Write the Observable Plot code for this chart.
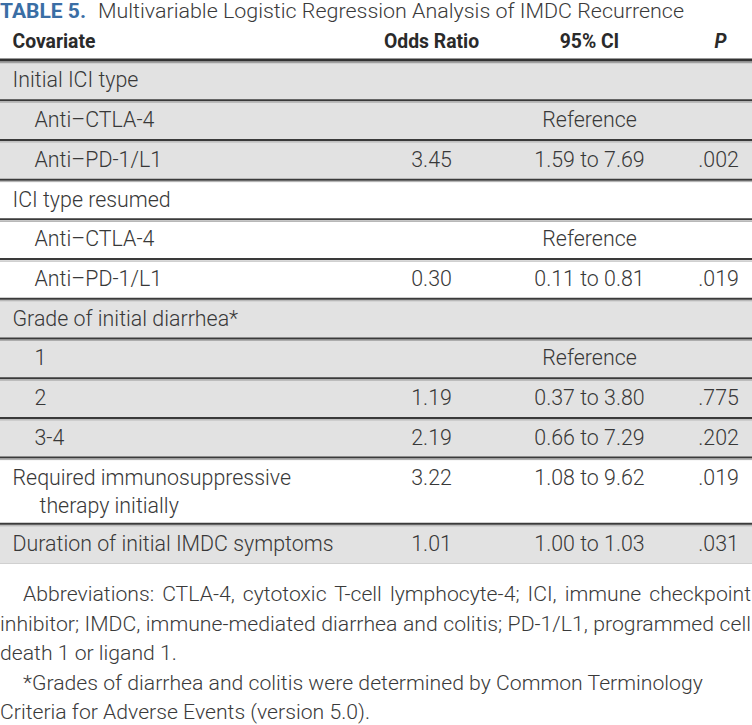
<!DOCTYPE html>
<html>
<head>
<meta charset="utf-8">
<script src="https://cdn.jsdelivr.net/npm/d3@7"></script>
<script src="https://cdn.jsdelivr.net/npm/@observablehq/plot@0.6"></script>
<style>
  html, body { margin: 0; padding: 0; background: #fff; }
  body { position: relative; width: 752px; height: 725px; overflow: hidden; font-family: Roboto, "Noto Sans", sans-serif; color: #383838; }
  .abs { position: absolute; white-space: nowrap; transform-origin: 0 0; }
  #chart { position: absolute; left: 0; top: 0; }
</style>
</head>
<body>
<div id="chart"></div>
<script>
// ---- data ----
const titleLabel = "TABLE 5.";
const titleText = "Multivariable Logistic Regression Analysis of IMDC Recurrence";
const headers = ["Covariate", "Odds Ratio", "95% CI", "P"];
const covariates = [
  "Initial ICI type", "Anti–CTLA-4", "Anti–PD-1/L1",
  "ICI type resumed", "Anti–CTLA-4", "Anti–PD-1/L1",
  "Grade of initial diarrhea*", "1", "2", "3-4",
  "Required immunosuppressive\ntherapy initially",
  "Duration of initial IMDC symptoms"
];
const levels = [0, 1, 1, 0, 1, 1, 0, 1, 1, 1, 0, 0];
const groups = [0, 0, 0, 1, 1, 1, 2, 2, 2, 2, 3, 4];
const oddsRatios = [null, null, "3.45", null, null, "0.30", null, null, "1.19", "2.19", "3.22", "1.01"];
const ci95 = [null, "Reference", "1.59 to 7.69", null, "Reference", "0.11 to 0.81", null, "Reference", "0.37 to 3.80", "0.66 to 7.29", "1.08 to 9.62", "1.00 to 1.03"];
const pValues = [null, null, ".002", null, null, ".019", null, null, ".775", ".202", ".019", ".031"];
const noteLines = [
  "Abbreviations: CTLA-4, cytotoxic T-cell lymphocyte-4; ICI, immune checkpoint",
  "inhibitor; IMDC, immune-mediated diarrhea and colitis; PD-1/L1, programmed cell",
  "death 1 or ligand 1.",
  "*Grades of diarrhea and colitis were determined by Common Terminology",
  "Criteria for Adverse Events (version 5.0)."
];

// ---- layout ----
const W = 752, H = 572;
const FAM = 'Roboto, "Noto Sans", sans-serif';
const INK = "#383838", SHADE = "#e2e2e2", BLUE = "#3a6ea5";
const colX = {covariate: 12, sub: 34, cont: 39, odds: 431, ci: 589, p: 718};
const BODY = 22, HEAD = 20;

const ctx = document.createElement("canvas").getContext("2d");
function measure(text, weight, size) { ctx.font = `${weight} ${size}px ${FAM}`; return ctx.measureText(text).width; }

const sBody = (321 + 126) / (measure("Duration of initial IMDC symptoms", 300, BODY) + measure("Initial ICI type", 300, BODY));
const sHead = 83 / measure("Covariate", 700, HEAD);

let acc = 0;
const rows = covariates.map((c, i) => {
  const parts = c.split("\n");
  const h = parts.length > 1 ? 1.667 : 1;
  const r = {first: parts[0], second: parts[1] || null, level: levels[i], group: groups[i],
             or: oddsRatios[i], ci: ci95[i], p: pValues[i], top: acc, bottom: acc + h};
  acc += h;
  return r;
});
const total = acc;

const body = {fontSize: BODY, fill: INK, fontFamily: FAM, fontWeight: 300};
const head = {fontSize: HEAD, fill: "#2a2a2a", fontFamily: FAM, fontWeight: 700};

const plot = Plot.plot({
  width: W, height: H,
  margin: 0,
  x: {domain: [0, W], range: [0, W], axis: null},
  y: {domain: [0, total], range: [60, 563], axis: null},
  style: {fontFamily: FAM, background: "transparent", overflow: "visible"},
  marks: [
    Plot.rect(rows.filter(d => d.group % 2 === 0), {x1: () => 0, x2: () => W, y1: "top", y2: "bottom", fill: SHADE}),
    // row separators
    Plot.ruleY(rows.slice(0, -1), {y: "bottom", stroke: "#3a3a3a", strokeWidth: 2}),
    Plot.ruleY(rows.slice(0, -1), {y: "bottom", dy: 2, stroke: "#aaaaaa", strokeWidth: 1}),
    Plot.ruleY(rows.slice(-1), {y: "bottom", stroke: "#d0d0d0", strokeWidth: 1}),
    // header rule
    Plot.ruleY([0], {stroke: "#333", strokeWidth: 3, dy: -0.5}),
    Plot.ruleY([0], {stroke: "#a0a0a0", strokeWidth: 1.5, dy: 2}),
    // header text
    Plot.text([headers[0]], {x: () => colX.covariate, y: () => -0.48, text: d => d, textAnchor: "start", ...head}),
    Plot.text([headers[1]], {x: () => colX.odds, y: () => -0.48, text: d => d, ...head}),
    Plot.text([headers[2]], {x: () => colX.ci, y: () => -0.48, text: d => d, ...head}),
    Plot.text([headers[3]], {x: () => colX.p + 2, y: () => -0.48, text: d => d, fontStyle: "italic", ...head}),
    // covariate labels
    Plot.text(rows, {x: d => d.level ? colX.sub : colX.covariate, y: d => d.top + 0.5, text: "first", textAnchor: "start", ...body}),
    Plot.text(rows.filter(d => d.second), {x: () => colX.cont, y: d => d.top + 0.5, dy: 28, text: "second", textAnchor: "start", ...body}),
    // values
    Plot.text(rows.filter(d => d.or), {x: () => colX.odds, y: d => d.top + 0.5, text: "or", ...body}),
    Plot.text(rows.filter(d => d.ci), {x: () => colX.ci, y: d => d.top + 0.5, text: "ci", ...body}),
    Plot.text(rows.filter(d => d.p), {x: () => colX.p, y: d => d.top + 0.5, text: "p", ...body})
  ]
});

// condense the sans-serif glyphs horizontally around each text's anchor
plot.querySelectorAll("text").forEach(el => {
  const g = el.closest("g");
  const s = g && g.getAttribute("font-weight") === "700" ? sHead : sBody;
  let t = el.getAttribute("transform");
  if (!t) {
    const x = el.getAttribute("x") || 0, y = el.getAttribute("y") || 0;
    el.removeAttribute("x"); el.removeAttribute("y");
    t = `translate(${x},${y})`;
  }
  el.setAttribute("transform", `${t} scale(${s},1)`);
});
document.getElementById("chart").appendChild(plot);

// ---- title (above the table) ----
function addLine(text, {left, top, size, weight, color, scale, width, justify, lineHeight}) {
  const d = document.createElement("div");
  d.className = "abs";
  d.textContent = text;
  Object.assign(d.style, {
    left: left + "px", top: top + "px", fontSize: size + "px", fontWeight: weight,
    lineHeight: lineHeight || "1.2", color, transform: `scaleX(${scale})`
  });
  if (justify) Object.assign(d.style, {width: (width / scale) + "px", textAlign: "justify", textAlignLast: "justify"});
  document.body.appendChild(d);
  return d;
}
const sTB = 86 / measure(titleLabel, 700, 20);
const sTT = 586 / measure(titleText, 300, 21);
addLine(titleLabel, {left: 0, top: 0, size: 20, weight: 700, color: BLUE, scale: sTB, lineHeight: "22px"});
addLine(titleText, {left: 98, top: 0, size: 21, weight: 300, color: "#3a3a3a", scale: sTT, lineHeight: "22px"});

// ---- notes (below the table) ----
const NS = 21;
const noteLeft = [23, 0, 0, 23, 0];
const noteJust = [true, true, false, false, false];
let sN = 681 / measure(noteLines[3], 300, NS);
noteLines.forEach((t, i) => {
  if (noteJust[i]) sN = Math.min(sN, (W - noteLeft[i] - 4) / measure(t, 300, NS));
});
noteLines.forEach((t, i) => {
  addLine(t, {left: noteLeft[i], top: 583 + i * 29.6, size: NS, weight: 300, color: "#3a3a3a", scale: sN,
              width: W - noteLeft[i] - 1, justify: noteJust[i], lineHeight: "22px"});
});
</script>
</body>
</html>
